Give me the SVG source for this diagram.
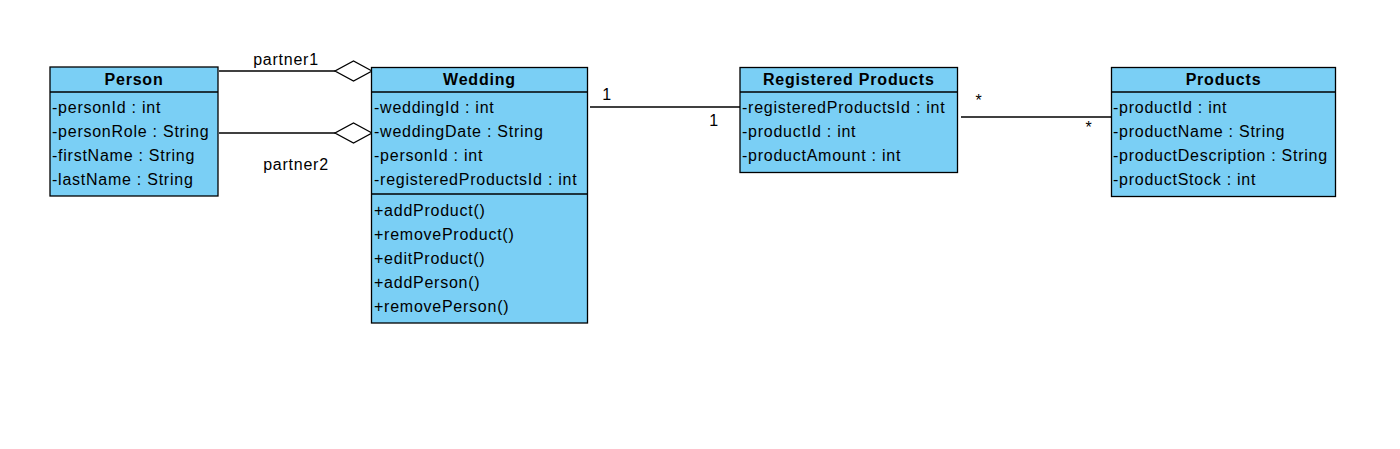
<svg xmlns="http://www.w3.org/2000/svg" width="1400" height="449" viewBox="0 0 1400 449">
<style>
.box{fill:#7ACFF5;stroke:#000;stroke-width:1.3}
.sep{stroke:#000;stroke-width:1.3}
.t{font-family:"Liberation Sans",Arial,sans-serif;font-size:16px;letter-spacing:0.75px;fill:#000}
.h{font-family:"Liberation Sans",Arial,sans-serif;font-size:16px;font-weight:bold;letter-spacing:0.8px;fill:#000;text-anchor:middle}
.ln{stroke:#000;stroke-width:1.3;fill:none}
.dia{fill:#fff;stroke:#000;stroke-width:1.3}
</style>
<rect width="1400" height="449" fill="#fff"/>
<g id="connectors">
<line class="ln" x1="219" y1="71" x2="335" y2="71"/>
<polygon class="dia" points="372,71 353.5,61 335,71 353.5,81"/>
<line class="ln" x1="219" y1="133" x2="335" y2="133"/>
<polygon class="dia" points="372,133 353.5,123 335,133 353.5,143"/>
<text class="t" x="286" y="65" text-anchor="middle">partner1</text>
<text class="t" x="296" y="170" text-anchor="middle">partner2</text>
<line class="ln" x1="590" y1="107" x2="740" y2="107"/>
<text class="t" x="607" y="100" text-anchor="middle">1</text>
<text class="t" x="714" y="126" text-anchor="middle">1</text>
<line class="ln" x1="961" y1="117" x2="1111" y2="117"/>
<text class="t" x="979" y="106" text-anchor="middle">*</text>
<text class="t" x="1089" y="133" text-anchor="middle">*</text>
</g>
<g id="person">
<rect class="box" x="50" y="67" width="168" height="129"/>
<line class="sep" x1="50" y1="92" x2="218" y2="92"/>
<text class="h" x="134" y="85">Person</text>
<text class="t" x="52" y="113">-personId : int</text>
<text class="t" x="52" y="137">-personRole : String</text>
<text class="t" x="52" y="161">-firstName : String</text>
<text class="t" x="52" y="185">-lastName : String</text>
</g>
<g id="wedding">
<rect class="box" x="371.5" y="67.5" width="216" height="255.5"/>
<line class="sep" x1="371.5" y1="92" x2="587.5" y2="92"/>
<line class="sep" x1="371.5" y1="194" x2="587.5" y2="194"/>
<text class="h" x="479.5" y="85">Wedding</text>
<text class="t" x="374" y="113">-weddingId : int</text>
<text class="t" x="374" y="137">-weddingDate : String</text>
<text class="t" x="374" y="161">-personId : int</text>
<text class="t" x="374" y="185">-registeredProductsId : int</text>
<text class="t" x="374" y="216">+addProduct()</text>
<text class="t" x="374" y="240">+removeProduct()</text>
<text class="t" x="374" y="264">+editProduct()</text>
<text class="t" x="374" y="288">+addPerson()</text>
<text class="t" x="374" y="312">+removePerson()</text>
</g>
<g id="registered-products">
<rect class="box" x="740" y="67.5" width="217.5" height="105"/>
<line class="sep" x1="740" y1="92" x2="957.5" y2="92"/>
<text class="h" x="848.75" y="85">Registered Products</text>
<text class="t" x="742" y="113">-registeredProductsId : int</text>
<text class="t" x="742" y="137">-productId : int</text>
<text class="t" x="742" y="161">-productAmount : int</text>
</g>
<g id="products">
<rect class="box" x="1111.5" y="67.5" width="224" height="129"/>
<line class="sep" x1="1111.5" y1="92" x2="1335.5" y2="92"/>
<text class="h" x="1223.5" y="85">Products</text>
<text class="t" x="1113" y="113">-productId : int</text>
<text class="t" x="1113" y="137">-productName : String</text>
<text class="t" x="1113" y="161">-productDescription : String</text>
<text class="t" x="1113" y="185">-productStock : int</text>
</g>
</svg>
